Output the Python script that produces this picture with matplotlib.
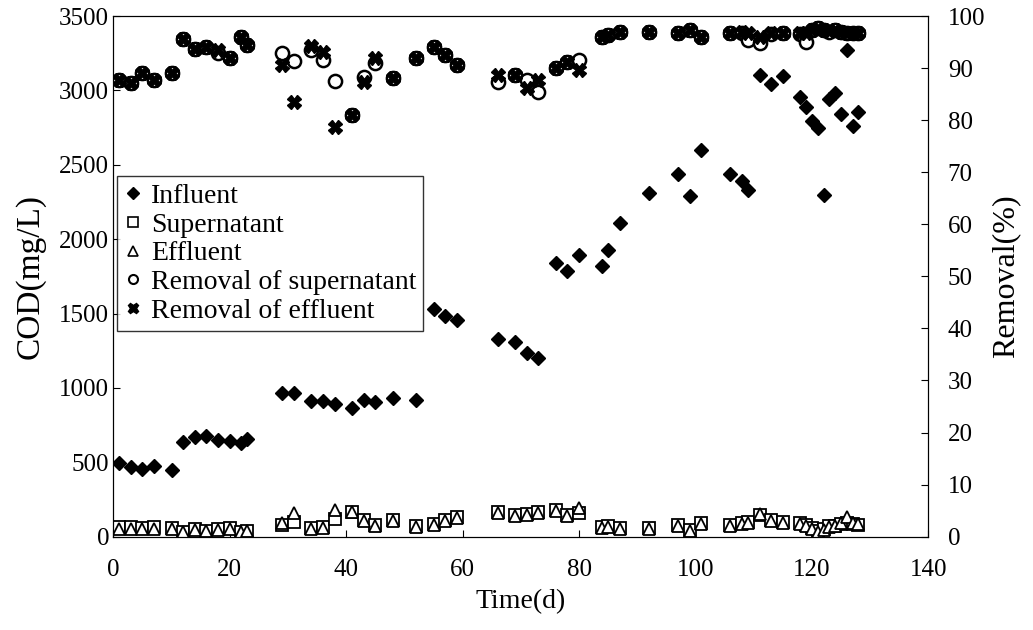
import matplotlib
matplotlib.use('Agg')
from matplotlib import pyplot as plt
from matplotlib.lines import Line2D

plt.rcParams['font.family'] = ['Liberation Serif', 'DejaVu Serif']

# sampling days
days = [1, 3, 5, 7, 10, 12, 14, 16, 18, 20, 22, 23, 29, 31, 34, 36, 38, 41, 43, 45,
        48, 52, 55, 57, 59, 66, 69, 71, 73, 76, 78, 80, 84, 85, 87, 92, 97, 99, 101, 106,
        108, 109, 111, 113, 115, 118, 119, 120, 121, 122, 123, 124, 125, 126, 127, 128]

# COD (mg/L)
influent = [493, 466, 455, 477, 448, 637, 668, 675, 650, 645, 632, 659, 968, 968, 914, 912,
            892, 867, 919, 907, 930, 919, 1529, 1484, 1457, 1327, 1311, 1233, 1199, 1838,
            1788, 1894, 1822, 1927, 2107, 2312, 2438, 2290, 2599, 2438, 2393, 2331, 3104,
            3041, 3097, 2958, 2886, 2796, 2745, 2297, 2940, 2981, 2841, 3272, 2758, 2857]
supernatant = [63, 63, 56, 63, 56, 34, 50, 40, 50, 56, 34, 40, 79, 101, 56, 67, 117, 168,
               112, 79, 112, 72, 85, 112, 134, 165, 146, 150, 168, 179, 146, 160, 67, 72,
               56, 56, 79, 45, 90, 79, 90, 100, 146, 112, 101, 95, 80, 60, 35, 50, 70, 75,
               85, 95, 85, 80]
effluent = [55, 55, 50, 55, 50, 30, 45, 35, 45, 50, 30, 35, 95, 157, 50, 60, 180, 165, 105,
            72, 105, 65, 80, 105, 128, 160, 140, 145, 160, 172, 140, 190, 60, 66, 50, 50,
            72, 40, 85, 72, 85, 95, 150, 105, 95, 88, 75, 55, 30, 45, 65, 70, 90, 130, 95, 85]

# removal (%)
removal_sup = [87.7, 87.1, 89.0, 87.7, 89.0, 95.5, 93.6, 94.1, 92.9, 91.9, 96.0, 94.4, 92.8,
               91.4, 93.5, 91.6, 87.5, 81.0, 88.3, 90.9, 88.0, 91.9, 94.1, 92.5, 90.6, 87.4,
               88.7, 87.7, 85.5, 90.0, 91.2, 91.6, 96.0, 96.3, 97.0, 97.0, 96.7, 97.3, 96.0,
               96.7, 96.7, 95.4, 94.9, 96.5, 96.7, 96.5, 95.1, 97.3, 97.6, 97.3, 97.0, 97.3,
               97.0, 96.8, 96.7, 96.7]
removal_eff = [87.7, 87.1, 89.0, 87.7, 89.0, 95.5, 93.6, 94.1, 93.5, 91.9, 96.0, 94.4, 90.6,
               83.5, 94.2, 93.0, 78.7, 81.0, 87.4, 91.9, 88.0, 91.9, 94.1, 92.5, 90.6, 88.7,
               88.7, 86.1, 87.7, 90.0, 91.2, 89.6, 96.0, 96.3, 97.0, 97.0, 96.7, 97.3, 96.0,
               96.7, 96.9, 96.7, 96.0, 96.7, 96.7, 96.7, 96.8, 97.3, 97.6, 97.3, 97.2, 97.3,
               97.0, 96.7, 96.7, 96.7]

fig = plt.figure(figsize=(10.33, 6.3), dpi=100)
ax = fig.add_axes([0.1097, 0.1481, 0.789, 0.8265])
ax2 = ax.twinx()

ax.plot(days, influent, 'D', color='black', markersize=7.5, linestyle='none')
ax.plot(days, supernatant, 's', mfc='white', mec='black', mew=1.3, markersize=9, linestyle='none')
ax.plot(days, effluent, '^', mfc='white', mec='black', mew=1.3, markersize=8, linestyle='none')
ax2.plot(days, removal_sup, 'o', mfc='white', mec='black', mew=1.8, markersize=9.5, linestyle='none')
ax2.plot(days, removal_eff, 'X', color='black', markersize=9.5, linestyle='none')

ax.set_xlim(0, 140)
ax.set_ylim(0, 3500)
ax2.set_ylim(0, 100)
ax.set_xticks(range(0, 141, 20))
ax.set_yticks(range(0, 3501, 500))
ax2.set_yticks(range(0, 101, 10))

ax.tick_params(axis='both', direction='in', length=5, labelsize=18)
ax.tick_params(axis='y', pad=3)
ax.tick_params(axis='x', pad=16)
ax2.tick_params(axis='y', direction='in', length=5, labelsize=18, pad=14)

ax.set_xlabel('Time(d)', fontsize=20, labelpad=6)
ax.set_ylabel('COD(mg/L)', fontsize=24, labelpad=10)
ax2.set_ylabel('Removal(%)', fontsize=23, labelpad=4)

handles = [Line2D([], [], marker='D', color='black', linestyle='none', markersize=6),
           Line2D([], [], marker='s', mfc='white', mec='black', mew=1.2, linestyle='none', markersize=6.5),
           Line2D([], [], marker='^', mfc='white', mec='black', mew=1.2, linestyle='none', markersize=6.5),
           Line2D([], [], marker='o', mfc='white', mec='black', mew=1.5, linestyle='none', markersize=6.5),
           Line2D([], [], marker='X', color='black', linestyle='none', markersize=7.5)]
labels = ['Influent', 'Supernatant', 'Effluent', 'Removal of supernatant', 'Removal of effluent']
leg = ax2.legend(handles, labels, loc='upper left', bbox_to_anchor=(0.0, 0.70),
                 fontsize=20, frameon=True, fancybox=False, edgecolor='black',
                 handlelength=0.6, handletextpad=0.35, labelspacing=0.12,
                 borderpad=0.25, borderaxespad=0.15)
leg.get_frame().set_linewidth(1.0)

plt.savefig('out.png', dpi=100)
